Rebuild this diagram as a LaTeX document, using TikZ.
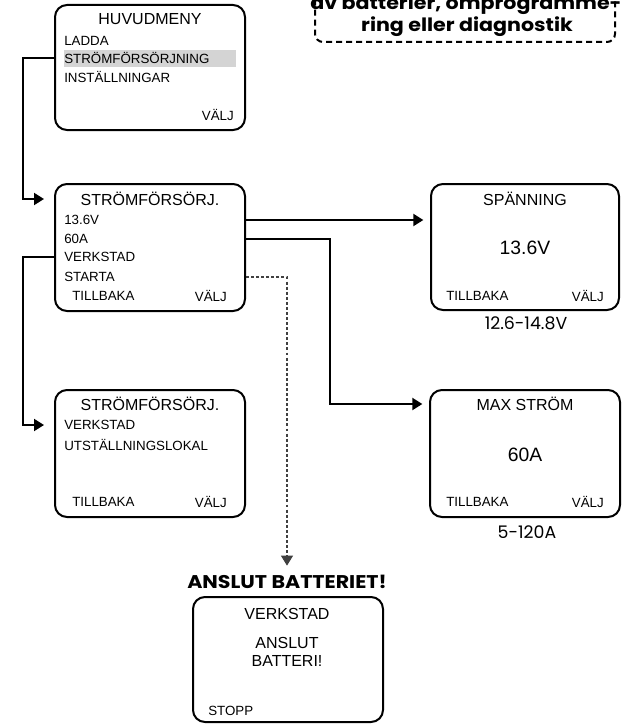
\documentclass[tikz,border=0pt]{standalone}
\usepackage{fontspec}
\setmainfont{Liberation Sans}
\newfontfamily\headfont{Poppins}[BoldFeatures={FakeStretch=1.12}]
\usetikzlibrary{arrows.meta}
\begin{document}
\begin{tikzpicture}[x=0.75pt,y=-0.75pt,
  screen/.style={draw, line width=1.5pt, rounded corners=9pt, inner sep=0pt},
  txt/.style={inner sep=0pt, font=\fontsize{10pt}{12pt}\selectfont},
  ttl/.style={inner sep=0pt, font=\fontsize{12pt}{14pt}\selectfont},
  big/.style={inner sep=0pt, font=\fontsize{14.5pt}{17pt}\selectfont},
  rng/.style={inner sep=0pt, font=\headfont\fontsize{13pt}{15pt}\selectfont},
  head/.style={inner sep=0pt, font=\headfont\bfseries\fontsize{13.8pt}{16pt}\selectfont},
  conn/.style={line width=1.5pt, -{Triangle[length=7.5pt,width=9pt]}},
  dotconn/.style={line width=0.8pt, black!75, dash pattern=on 2.2pt off 1.6pt, -{Triangle[length=7.5pt,width=9pt]}}
]
\useasboundingbox (0,0) rectangle (626,724);
\clip (0,0) rectangle (626,724);

% dashed note box (top right, cut off)
\node[draw, line width=1.5pt, dash pattern=on 4.5pt off 3pt, rounded corners=6pt,
      minimum width=300*0.75pt, minimum height=84*0.75pt] (note) at (465,0) {};
\node[head] (notet) at (466,5) {av batterier, omprogramme-};
\node[head] (noteb) at (467,27) {ring eller diagnostik};

% main menu
\node[screen, minimum width=190*0.75pt, minimum height=125*0.75pt] (hm) at (150,67.5) {};
\fill[black!17] (64,50) rectangle (236,67);
\node[ttl] (hmt) at (150,19) {HUVUDMENY};
\node[txt, anchor=west] (hml) at (64,41) {LADDA};
\node[txt, anchor=west] (hmsel) at (64,58) {STRÖMFÖRSÖRJNING};
\node[txt, anchor=west] (hmi) at (64,77) {INSTÄLLNINGAR};
\node[txt, anchor=east] (hmv) at (234,115) {VÄLJ};

% power supply screen 1
\node[screen, minimum width=190*0.75pt, minimum height=127*0.75pt] (s1) at (150,247.5) {};
\node[ttl] (s1t) at (150,199) {STRÖMFÖRSÖRJ.};
\node[txt, anchor=west] (s1v) at (64,220) {13.6V};
\node[txt, anchor=west] (s1a) at (64,239) {60A};
\node[txt, anchor=west] (s1w) at (64,257) {VERKSTAD};
\node[txt, anchor=west] (s1s) at (64,277) {STARTA};
\node[txt, anchor=west] (s1b) at (72,296) {TILLBAKA};
\node[txt, anchor=east] (s1o) at (227,296) {VÄLJ};

% power supply screen 2
\node[screen, minimum width=190*0.75pt, minimum height=127*0.75pt] (s3) at (150,453.5) {};
\node[ttl] (s3t) at (150,404) {STRÖMFÖRSÖRJ.};
\node[txt, anchor=west] (s3w) at (64,425) {VERKSTAD};
\node[txt, anchor=west] (s3u) at (64,445) {UTSTÄLLNINGSLOKAL};
\node[txt, anchor=west] (s3b) at (72,502) {TILLBAKA};
\node[txt, anchor=east] (s3o) at (227,502) {VÄLJ};

% voltage screen
\node[screen, minimum width=188*0.75pt, minimum height=126*0.75pt] (sp) at (525,247) {};
\node[ttl] (spt) at (525,199) {SPÄNNING};
\node[big] (spv) at (525,248) {13.6V};
\node[txt, anchor=west] (spb) at (446,296) {TILLBAKA};
\node[txt, anchor=east] (spo) at (604,296) {VÄLJ};
\node[rng] (spr) at (526,323) {12.6-14.8V};

% max current screen
\node[screen, minimum width=190*0.75pt, minimum height=127*0.75pt] (mx) at (525,453.5) {};
\node[ttl] (mxt) at (525,404) {MAX STRÖM};
\node[big] (mxv) at (525,455) {60A};
\node[txt, anchor=west] (mxb) at (446,502) {TILLBAKA};
\node[txt, anchor=east] (mxo) at (604,502) {VÄLJ};
\node[rng] (mxr) at (527,532) {5-120A};

% connect battery screen
\node[head] (anhd) at (287,582) {ANSLUT BATTERIET!};
\node[screen, minimum width=190*0.75pt, minimum height=125*0.75pt] (an) at (288,659.5) {};
\node[ttl] (anw) at (287,614) {VERKSTAD};
\node[ttl, align=center] (anc) at (287,652) {ANSLUT\\[0pt]BATTERI!};
\node[txt, anchor=west] (ans) at (208,711) {STOPP};

% connectors
\draw[conn] (hm.west |- hmsel) -- ++(-31,0) |- ([xshift=-7.5pt]s1.west |- s1t);
\draw[conn] (s1.west |- s1w) -- ++(-31,0) |- ([xshift=-7.5pt]s3.west |- s3w);
\draw[conn] (s1.east |- s1v) -- ([xshift=-5pt]sp.west |- s1v);
\draw[conn] (s1.east |- s1a) -- ++(84,0) |- ([xshift=-5pt]mx.west |- mxt);
\draw[dotconn] (s1.east |- s1s) -| ([yshift=7pt]anhd.north);
\end{tikzpicture}
\end{document}
